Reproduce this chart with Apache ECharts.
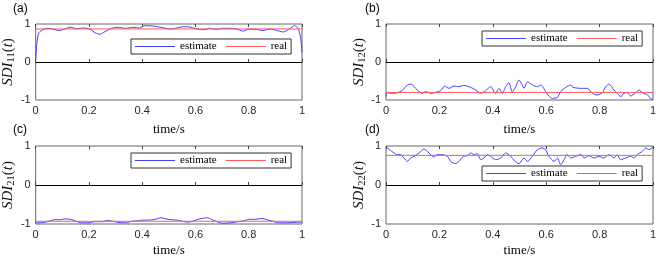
<!DOCTYPE html>
<html><head><meta charset="utf-8">
<script src="https://cdn.jsdelivr.net/npm/echarts@6/dist/echarts.min.js"></script>
<style>html,body{margin:0;padding:0;background:#fff}#c{width:664px;height:259px}</style>
</head><body><div id="c"></div>
<script>
// ---- data ----
const tA = [0,0.004,0.011,0.024,0.05,0.067,0.086,0.105,0.13,0.155,0.18,0.205,0.223,0.242,0.26,0.286,0.31,0.336,0.367,0.39,0.41,0.44,0.47,0.505,0.53,0.554,0.58,0.60,0.63,0.655,0.68,0.70,0.73,0.75,0.78,0.80,0.83,0.85,0.88,0.90,0.93,0.954,0.972,0.985,0.995,1.0];
const estA = [0.05,0.45,0.755,0.84,0.886,0.86,0.825,0.86,0.912,0.877,0.895,0.86,0.77,0.73,0.80,0.886,0.912,0.886,0.912,0.895,0.956,0.945,0.912,0.868,0.895,0.93,0.92,0.877,0.85,0.886,0.86,0.886,0.886,0.877,0.816,0.86,0.86,0.825,0.868,0.84,0.79,0.877,0.956,0.886,0.62,0.25];
const realA = 0.87;

const tB = [0,0.005,0.024,0.042,0.06,0.08,0.095,0.105,0.117,0.136,0.149,0.167,0.186,0.205,0.22,0.236,0.255,0.273,0.29,0.317,0.336,0.355,0.373,0.392,0.41,0.423,0.436,0.448,0.46,0.473,0.486,0.498,0.51,0.517,0.53,0.548,0.567,0.58,0.598,0.61,0.623,0.642,0.654,0.673,0.692,0.70,0.73,0.754,0.773,0.79,0.81,0.823,0.835,0.854,0.866,0.88,0.89,0.904,0.916,0.935,0.948,0.96,0.98,0.99,1.0];
const estB = [-0.91,-0.81,-0.825,-0.81,-0.754,-0.605,-0.58,-0.65,-0.737,-0.825,-0.78,-0.825,-0.80,-0.754,-0.632,-0.693,-0.632,-0.65,-0.614,-0.667,-0.737,-0.825,-0.754,-0.65,-0.825,-0.693,-0.825,-0.65,-0.544,-0.79,-0.65,-0.474,-0.605,-0.693,-0.518,-0.605,-0.65,-0.605,-0.78,-0.895,-0.956,-0.93,-0.78,-0.667,-0.605,-0.667,-0.693,-0.693,-0.825,-0.868,-0.807,-0.65,-0.58,-0.737,-0.825,-0.912,-0.825,-0.807,-0.895,-0.807,-0.737,-0.807,-0.868,-0.956,-0.982];
const realB = -0.80;

const tC = [0,0.03,0.05,0.07,0.09,0.11,0.13,0.15,0.17,0.2,0.22,0.25,0.27,0.29,0.31,0.34,0.36,0.38,0.4,0.42,0.44,0.46,0.47,0.49,0.51,0.53,0.55,0.57,0.59,0.61,0.63,0.645,0.66,0.68,0.70,0.73,0.76,0.78,0.80,0.82,0.85,0.87,0.89,0.91,0.94,0.97,1.0];
const estC = [-0.97,-0.96,-0.93,-0.89,-0.89,-0.87,-0.88,-0.92,-0.97,-0.97,-0.94,-0.94,-0.91,-0.93,-0.96,-0.97,-0.93,-0.92,-0.90,-0.90,-0.89,-0.86,-0.84,-0.87,-0.89,-0.90,-0.93,-0.95,-0.93,-0.88,-0.85,-0.84,-0.88,-0.94,-0.98,-0.97,-0.94,-0.92,-0.88,-0.88,-0.86,-0.89,-0.93,-0.97,-0.97,-0.96,-0.95];
const realC = -0.93;

const tD = [0,0.017,0.03,0.042,0.055,0.067,0.08,0.092,0.105,0.124,0.142,0.155,0.167,0.18,0.19,0.21,0.23,0.242,0.26,0.273,0.29,0.305,0.317,0.33,0.342,0.355,0.367,0.38,0.392,0.41,0.43,0.448,0.467,0.48,0.498,0.517,0.53,0.548,0.567,0.585,0.598,0.61,0.63,0.642,0.654,0.667,0.679,0.692,0.71,0.73,0.742,0.76,0.779,0.798,0.816,0.835,0.854,0.866,0.878,0.898,0.916,0.93,0.94,0.96,0.973,0.985,1.0];
const estD = [0.974,0.889,0.821,0.778,0.778,0.692,0.607,0.692,0.735,0.821,0.923,0.863,0.778,0.718,0.778,0.778,0.735,0.607,0.547,0.607,0.735,0.752,0.821,0.778,0.803,0.65,0.692,0.778,0.735,0.65,0.692,0.821,0.735,0.632,0.547,0.692,0.607,0.735,0.906,0.949,0.906,0.735,0.607,0.692,0.521,0.65,0.778,0.692,0.735,0.778,0.692,0.752,0.692,0.735,0.692,0.778,0.692,0.778,0.65,0.692,0.735,0.692,0.778,0.863,0.949,0.906,0.974];
const realD = 0.76;

const panelLabels = ['(a)','(b)','(c)','(d)'];
const yNames = ['11','12','21','22'];
const xTicks = [0,0.2,0.4,0.6,0.8,1];
const legendNames = ['estimate','real'];

// ---- chart ----
const panels = [
  {t:tA, e:estA, r:realA},
  {t:tB, e:estB, r:realB},
  {t:tC, e:estC, r:realC},
  {t:tD, e:estD, r:realD}
];
const grids = [
  {left:35, top:24, width:267, height:76},
  {left:386, top:24, width:267, height:76},
  {left:35, top:146, width:267, height:78},
  {left:386, top:146, width:267, height:78}
];
const xNameGaps = [23, 23, 20, 20];
const legendPos = [
  {left:131, top:39},
  {left:482, top:31},
  {left:131, top:153},
  {left:482, top:166}
];
const labelPos = [[13,3],[365,3],[13,124],[365,124]];

const SANS = 'Liberation Sans, Arial, sans-serif';
const SERIF = 'Liberation Serif, Times New Roman, serif';
const BLUE = '#4040ff', RED = '#ff5a5a';

const xAxes = [], yAxes = [], series = [], legends = [], titles = [];
panels.forEach((p, i) => {
  xAxes.push({
    gridIndex:i, type:'value', min:0, max:1, interval:0.2, position:'bottom',
    name:'time/s', nameLocation:'middle', nameGap:xNameGaps[i],
    nameTextStyle:{fontFamily:SERIF, fontSize:13, color:'#000'},
    axisLine:{show:false}, splitLine:{show:false},
    axisTick:{show:true, inside:true, length:3, lineStyle:{color:'#444'}},
    axisLabel:{fontFamily:SANS, fontSize:11, color:'#262626', margin:5,
      formatter: v => xTicks.includes(Math.round(v*10)/10) ? String(Math.round(v*10)/10) : ''}
  });
  xAxes.push({
    gridIndex:i, type:'value', min:0, max:1, interval:0.2, position:'top',
    axisLine:{show:false}, splitLine:{show:false},
    axisTick:{show:true, inside:true, length:3, lineStyle:{color:'#444'}},
    axisLabel:{show:false}
  });
  yAxes.push({
    gridIndex:i, type:'value', min:-1, max:1, interval:1,
    name:'{i|SDI}{s|' + yNames[i] + '}{p|(}{i|t}{p|)}',
    nameLocation:'middle', nameGap:13, nameRotate:90,
    nameTextStyle:{
      rich:{
        i:{fontFamily:SERIF, fontStyle:'italic', fontSize:15, color:'#111'},
        s:{fontFamily:SERIF, fontSize:10.5, color:'#111', verticalAlign:'bottom', padding:[6,0,0,0]},
        p:{fontFamily:SERIF, fontSize:15, color:'#111'}
      }
    },
    axisLine:{show:false}, splitLine:{show:false}, axisTick:{show:false},
    axisLabel:{fontFamily:SANS, fontSize:11, color:'#262626', margin:5}
  });
  series.push({
    name:'estimate', type:'line', xAxisIndex:2*i, yAxisIndex:i,
    data: p.t.map((t, k) => [t, p.e[k]]),
    symbol:'none', smooth:0.25, silent:true,
    lineStyle:{color:BLUE, width:1}, itemStyle:{color:BLUE},
    markLine:{silent:true, symbol:'none', label:{show:false},
      lineStyle:{color:'#000', width:1, type:'solid'}, data:[{yAxis:0}]},
    z:2
  });
  series.push({
    name:'real', type:'line', xAxisIndex:2*i, yAxisIndex:i,
    data: [[0, p.r], [1, p.r]],
    symbol:'none', silent:true,
    lineStyle:{color:RED, width:1}, itemStyle:{color:RED},
    z:3
  });
  legends.push({
    data:legendNames, left:legendPos[i].left, top:legendPos[i].top,
    orient:'horizontal', icon:'rect', itemWidth:40, itemHeight:1, itemGap:9,
    padding:[2,4,2,4], borderColor:'#333', borderWidth:1, backgroundColor:'#fff',
    selectedMode:false,
    textStyle:{fontFamily:SERIF, fontSize:11, color:'#000'}
  });
  titles.push({
    text:panelLabels[i], left:labelPos[i][0], top:labelPos[i][1], padding:0,
    textStyle:{fontFamily:SANS, fontSize:12, fontWeight:'normal', color:'#000'}
  });
});

const chart = echarts.init(document.getElementById('c'), null, {renderer:'canvas'});
chart.setOption({
  animation:false,
  backgroundColor:'#fff',
  title:titles,
  grid:grids.map(g => Object.assign({show:true, borderColor:'#666', borderWidth:1, backgroundColor:'transparent'}, g)),
  xAxis:xAxes,
  yAxis:yAxes,
  legend:legends,
  series:series
});
</script>
</body></html>
